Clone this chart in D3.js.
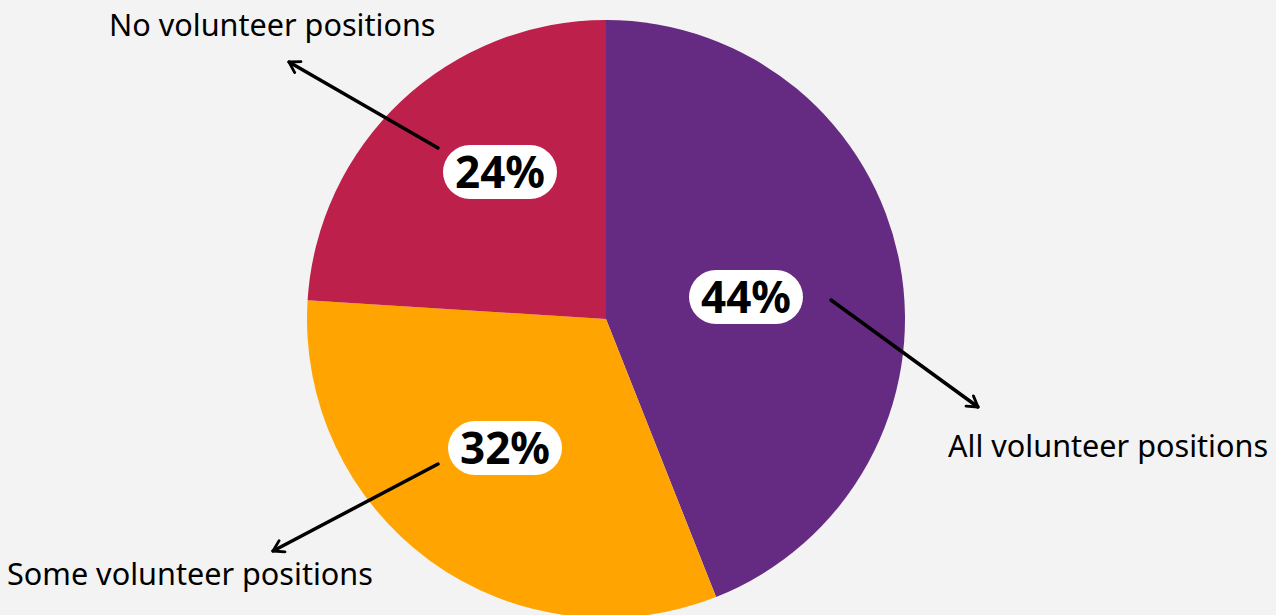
<!DOCTYPE html>
<html>
<head>
<meta charset="utf-8">
<script src="https://cdn.jsdelivr.net/npm/d3@7"></script>
<style>
  body { margin: 0; background: #f3f3f3; }
  svg { display: block; }
</style>
</head>
<body>
<div id="container"></div>
<script>
// data
var categories = ["All volunteer positions", "Some volunteer positions", "No volunteer positions"];
var shares = [44, 32, 24];
var colors = ["#652a82", "#ffa400", "#bc204b"];

// layout of the callouts (pixel positions, not data)
var pctPos = [[746, 297], [505, 448], [500, 172]];
var arrows = [[[831, 300], [978, 407]], [[438, 464], [273, 551]], [[438, 148], [289, 62]]];
var namePos = [[948, 457], [7, 585], [109, 36]];

var width = 1276, height = 615;
var cx = 606, cy = 319, radius = 299;

var svg = d3.select("#container")
    .append("svg")
    .attr("width", width)
    .attr("height", height);

svg.append("rect")
    .attr("width", width)
    .attr("height", height)
    .attr("fill", "#f3f3f3");

svg.append("defs").append("marker")
    .attr("id", "arrow")
    .attr("viewBox", "0 0 10 10")
    .attr("refX", 8)
    .attr("refY", 5)
    .attr("markerWidth", 4.5)
    .attr("markerHeight", 4.5)
    .attr("markerUnits", "strokeWidth")
    .attr("orient", "auto")
    .append("path")
    .attr("d", "M1.5,1 L8,5 L1.5,9")
    .attr("fill", "none")
    .attr("stroke", "#000")
    .attr("stroke-width", 1.8)
    .attr("stroke-linecap", "round")
    .attr("stroke-linejoin", "round");

var pie = d3.pie().sort(null).value(function (d) { return d; });
var arc = d3.arc().innerRadius(0).outerRadius(radius);

var g = svg.append("g")
    .attr("transform", "translate(" + cx + "," + cy + ")");

g.selectAll("path")
    .data(pie(shares))
    .enter()
    .append("path")
    .attr("d", arc)
    .attr("fill", function (d, i) { return colors[i]; });

// arrows
svg.selectAll("line.arrow")
    .data(arrows)
    .enter()
    .append("line")
    .attr("class", "arrow")
    .attr("x1", function (d) { return d[0][0]; })
    .attr("y1", function (d) { return d[0][1]; })
    .attr("x2", function (d) { return d[1][0]; })
    .attr("y2", function (d) { return d[1][1]; })
    .attr("stroke", "#000")
    .attr("stroke-width", 3.5)
    .attr("stroke-linecap", "round")
    .attr("marker-end", "url(#arrow)");

// percentage pills
var pills = svg.selectAll("g.pill")
    .data(shares)
    .enter()
    .append("g")
    .attr("class", "pill")
    .attr("transform", function (d, i) { return "translate(" + pctPos[i][0] + "," + pctPos[i][1] + ")"; });

pills.append("rect")
    .attr("x", -57)
    .attr("y", -27)
    .attr("width", 114)
    .attr("height", 54)
    .attr("rx", 27)
    .attr("fill", "#fff");

pills.append("text")
    .attr("text-anchor", "middle")
    .attr("dy", "0.36em")
    .style("font-family", "'Noto Sans', sans-serif")
    .style("font-weight", "bold")
    .style("font-size", "44px")
    .attr("fill", "#000")
    .text(function (d) { return d + "%"; });

// category names
svg.selectAll("text.name")
    .data(categories)
    .enter()
    .append("text")
    .attr("class", "name")
    .attr("x", function (d, i) { return namePos[i][0]; })
    .attr("y", function (d, i) { return namePos[i][1]; })
    .style("font-family", "'Noto Sans', sans-serif")
    .style("font-size", "30.6px")
    .attr("fill", "#000")
    .text(function (d) { return d; });
</script>
</body>
</html>
